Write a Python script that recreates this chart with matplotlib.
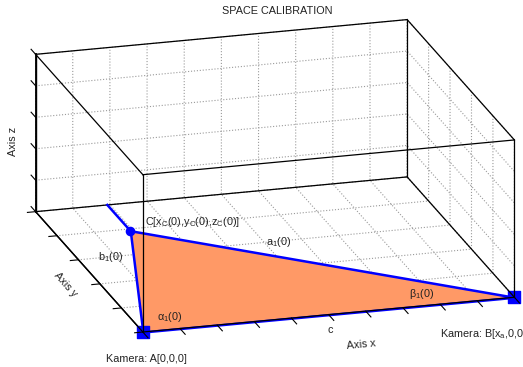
import matplotlib
matplotlib.use("Agg")
import math
import matplotlib.pyplot as plt
import numpy as np
from mpl_toolkits.mplot3d import proj3d
from mpl_toolkits.mplot3d.art3d import Poly3DCollection

plt.rcParams['font.family'] = ['Liberation Sans', 'DejaVu Sans']
plt.rcParams['mathtext.fontset'] = 'custom'
plt.rcParams['mathtext.rm'] = 'Liberation Sans'
plt.rcParams['mathtext.it'] = 'Liberation Sans:italic'
plt.rcParams['grid.linestyle'] = ':'
plt.rcParams['grid.color'] = '#9a9a9a'
plt.rcParams['grid.linewidth'] = 0.8

# ---- data ----
x_lim = (0.0, 10.0)
y_lim = (0.0, 5.0)
z_lim = (0.0, 5.0)
x_ticks = np.arange(0, 11, 1)
y_ticks = np.arange(0, 6, 1)
z_ticks = np.arange(0, 6, 1)

cam_A = (0.0, 0.0, 0.0)
cam_B = (10.0, 0.0, 0.0)
point_C = (1.93, 3.93, 0.0)

labels = ["C[x$_{\\mathrm{C}}$(0),y$_{\\mathrm{C}}$(0),z$_{\\mathrm{C}}$(0)]",
          "a$_{\\mathrm{1}}$(0)", "b$_{\\mathrm{1}}$(0)",
          "α$_{\\mathrm{1}}$(0)", "β$_{\\mathrm{1}}$(0)", "c",
          "Kamera: A[0,0,0]", "Kamera: B[x$_{\\mathrm{a}}$,0,0]"]
label_x = [2.5, 5.37, 0.86, 1.0, 7.77, 4.7, -0.52, 7.33]
label_y = [4.22, 2.97, 3.0, 0.48, 0.45, -0.6, -1.05, -1.15]
label_ha = ['left', 'center', 'center', 'center', 'center', 'center', 'center', 'left']

axis_titles = ['Axis x', 'Axis y', 'Axis z']
axis_title_pos = [(5.15, -1.25, 0.0), (-0.87, 2.08, 0.0), (-0.6, 5.0, 2.3)]
axis_title_dir = [(1, 0, 0), (0, 1, 0), (0, 0, 1)]

FS = 7.8
W, H = 523, 367
side = 1.512 * H
cx, cy = 267.5, 183.3
fig = plt.figure(figsize=(W / 100, H / 100), dpi=100)
ax = fig.add_axes([(cx - side / 2) / W, 1 - (cy + side / 2) / H, side / W, side / H],
                  projection='3d', computed_zorder=False)
ax.set_proj_type('ortho')
ax.view_init(elev=18.9, azim=-106.1)
ax.set_box_aspect((1, 1, 0.43), zoom=1.0)
ax.set_xlim(*x_lim)
ax.set_ylim(*y_lim)
ax.set_zlim(*z_lim)
ax.set_xticks(x_ticks)
ax.set_yticks(y_ticks)
ax.set_zticks(z_ticks)

for axis in (ax.xaxis, ax.yaxis, ax.zaxis):
    axis.set_tick_params(label1On=False, label2On=False)
    axis.set_pane_color((1, 1, 1, 0))
    axis.pane.set_edgecolor('none')
    axis.line.set_color('black')
    axis.line.set_linewidth(1.0)
    axis._axinfo['tick']['inward_factor'] = 0.0
    axis._axinfo['tick']['outward_factor'] = 0.0
    axis._axinfo['tick']['linewidth'] = {True: 0.0, False: 0.0}

fig.text(277 / W, 1 - 11 / H, 'SPACE CALIBRATION', fontsize=FS, ha='center',
         va='center', color='#222222')

x0, x1 = x_lim
y0, y1 = y_lim
z0, z1 = z_lim

# tick marks (outside the box, MATLAB style)
for xt in x_ticks:
    ax.plot([xt, xt], [y0, y0 - 0.24], [z0, z0], color='black', lw=0.8, clip_on=False)
for yt in y_ticks:
    ax.plot([x0, x0 - 0.22], [yt, yt], [z0, z0], color='black', lw=0.8, clip_on=False)
for zt in z_ticks:
    ax.plot([x0, x0], [y1, y1 + 0.21], [zt, zt], color='black', lw=0.8, clip_on=False)

# box edges
for (ya, za) in [(y0, z0), (y1, z0), (y0, z1), (y1, z1)]:
    ax.plot([x0, x1], [ya, ya], [za, za], color='black', lw=0.9, clip_on=False)
for (xa, za) in [(x0, z0), (x1, z0), (x0, z1), (x1, z1)]:
    ax.plot([xa, xa], [y0, y1], [za, za], color='black', lw=0.9, clip_on=False)
for (xa, ya) in [(x0, y0), (x1, y0), (x0, y1), (x1, y1)]:
    ax.plot([xa, xa], [ya, ya], [z0, z1], color='black',
            lw=1.3 if (xa == x0 and ya == y1) else 0.9, clip_on=False)

# line from C to back wall
ax.plot([point_C[0], point_C[0]], [point_C[1], y1], [0, 0], color='#0000ff',
        lw=1.8, clip_on=False)

tri = Poly3DCollection([[cam_A, cam_B, point_C]], facecolor='#ff9966',
                       edgecolor='#0000ff', linewidths=1.8, clip_on=False)
ax.add_collection3d(tri)

ax.scatter([cam_A[0], cam_B[0]], [cam_A[1], cam_B[1]], [cam_A[2], cam_B[2]],
           marker='s', s=80, color='#0000ff', depthshade=False, clip_on=False)
ax.scatter([point_C[0]], [point_C[1]], [point_C[2]], marker='o', s=35,
           color='#0000ff', depthshade=False, clip_on=False)

# project 3D label anchors through the axes' own projection
fig.canvas.draw()
M = ax.get_proj()


def to2d(x, y, z):
    px, py, _ = proj3d.proj_transform(x, y, z, M)
    return px, py


for t, lx, ly, ha in zip(labels, label_x, label_y, label_ha):
    px, py = to2d(lx, ly, 0.0)
    ax.text2D(px, py, t, transform=ax.transData, fontsize=FS, ha=ha,
              va='center', color='#222222')

for t, p, d in zip(axis_titles, axis_title_pos, axis_title_dir):
    px, py = to2d(*p)
    qx, qy = to2d(p[0] + d[0], p[1] + d[1], p[2] + d[2])
    a = ax.transData.transform([(px, py), (qx, qy)])
    ang = math.degrees(math.atan2(a[1][1] - a[0][1], a[1][0] - a[0][0]))
    while ang > 90:
        ang -= 180
    while ang <= -90:
        ang += 180
    ax.text2D(px, py, t, transform=ax.transData, fontsize=FS, ha='center',
              va='center', rotation=ang, rotation_mode='anchor', color='#222222')

fig.savefig('out.png', dpi=100)
